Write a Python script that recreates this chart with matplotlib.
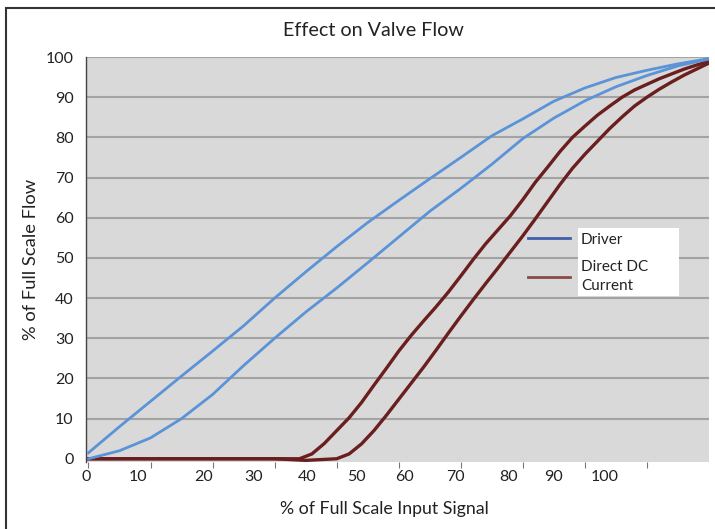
import matplotlib.pyplot as plt
from matplotlib.patches import Rectangle
import numpy as np

plt.rcParams["font.family"] = ["Lato", "DejaVu Sans"]

# Driver curves (two branches of the hysteresis loop)
driver_x = [0, 5, 10, 15, 20, 25, 30, 35, 40, 45, 50, 55, 60, 65, 70,
            75, 80, 85, 90, 95, 100]
driver_up = [1.5, 8, 14.3, 20.6, 26.8, 33.1, 40, 46.5, 52.8, 58.8, 64.3,
             69.7, 75, 80.4, 84.6, 89, 92.3, 94.9, 96.7, 98.3, 99.6]
driver_low = [0, 2, 5.2, 10, 16, 23.2, 30, 36.5, 42.5, 48.8, 55.2,
              61.6, 67.3, 73.3, 79.7, 84.8, 89.1, 92.6, 95.4, 97.8, 99.5]

# Direct DC current curves
dc_left_x = [0, 10, 20, 30, 34, 36, 38, 40, 42, 44, 46, 48, 50, 52, 54,
             56, 58, 60, 62, 64, 66, 68, 70, 72, 74, 76, 78, 80, 82, 84,
             86, 88, 90, 92, 94, 96, 98, 100]
dc_left_y = [0, 0, 0, 0, 0, 1.2, 3.8, 7, 10.2, 14, 18.3, 22.5, 26.8, 30.7,
             34.3, 37.8, 41.5, 45.5, 49.6, 53.5, 57, 60.5, 64.5, 68.8,
             72.6, 76.5, 80, 82.8, 85.5, 87.8, 90, 91.8, 93.2, 94.6, 95.8,
             97, 98, 99]
dc_right_x = [0, 10, 20, 30, 35, 40, 42, 44, 46, 48, 50, 52, 54, 56, 58,
              60, 62, 64, 66, 68, 70, 72, 74, 76, 78, 80, 82, 84, 86, 88,
              90, 92, 94, 96, 98, 100]
dc_right_y = [0, 0, 0, 0, -0.4, 0, 1.2, 3.7, 7, 10.8, 14.8, 18.8, 22.8,
              27, 31.3, 35.5, 39.6, 43.6, 47.5, 51.5, 55.5, 59.7, 64,
              68.3, 72.3, 75.8, 79, 82.2, 85.1, 87.8, 90, 92, 93.8, 95.5,
              97, 98.5]

x_tick_labels = ["0", "10", "20", "30", "40", "50", "60", "70", "80",
                 "90", "100"]
x_label_pos = [-0.4, 7.9, 18.6, 26.6, 35.2, 43.2, 51.0, 59.2, 67.7,
               75.0, 83.2]

blue = "#5b93d8"
brown = "#6b1e1e"

fig = plt.figure(figsize=(7.15, 5.29), dpi=100)
ax = fig.add_axes([0.1203, 0.1267, 0.8713, 0.7655])
ax.set_facecolor("#d9d9d9")

# Figure frame
fig.patches.append(
    Rectangle((6 / 715, -0.05), 1.2, 1 - 8 / 529 + 0.05,
              transform=fig.transFigure, fill=False,
              edgecolor="#333333", linewidth=1.5)
)

for yv in range(10, 101, 10):
    ax.axhline(yv, color="#a3a3a3", linewidth=1.5, zorder=1)

ax.plot(dc_left_x, dc_left_y, color=brown, linewidth=2.4, zorder=3)
ax.plot(dc_right_x, dc_right_y, color=brown, linewidth=2.4, zorder=3)
ax.plot(driver_x, driver_up, color=blue, linewidth=2.0, zorder=4)
ax.plot(driver_x, driver_low, color=blue, linewidth=2.0, zorder=4)

ax.set_xlim(0, 100)
ax.set_ylim(-0.8, 100)

# Tick marks on a regular grid, labels where the original put them
ax.set_xticks(np.arange(0, 91, 10))
ax.set_xticklabels([])
ax.tick_params(axis="x", which="major", length=4, color="#777777",
               direction="out")
ax.set_xticks(x_label_pos, minor=True)
ax.set_xticklabels(x_tick_labels, minor=True, fontsize=11.5,
                   color="#222222")
ax.tick_params(axis="x", which="minor", length=0, pad=6)

ax.set_yticks(np.arange(0, 101, 10))
ax.set_yticklabels([str(v) for v in range(0, 101, 10)], fontsize=11.5,
                   color="#222222")
ax.tick_params(axis="y", length=0, pad=9)

for side in ["top", "right", "bottom"]:
    ax.spines[side].set_visible(False)
ax.spines["left"].set_color("#444444")
ax.spines["left"].set_linewidth(1.0)

fig.text(373 / 715, 1 - 30 / 529, "Effect on Valve Flow", ha="center",
         va="center", fontsize=14.2, color="#222222")
fig.text(384 / 715, 1 - 509 / 529, "% of Full Scale Input Signal",
         ha="center", va="center", fontsize=12.8, color="#222222")
fig.text(31 / 715, 1 - 259 / 529, "% of Full Scale Flow", ha="center",
         va="center", rotation=90, fontsize=13.2, color="#222222")

# Legend: white box behind the labels only
ax.add_patch(Rectangle((0.790, 0.41), 0.162, 0.168,
                       transform=ax.transAxes, facecolor="white",
                       edgecolor="none", zorder=4.5))
h1, = ax.plot([], [], color="#3f5fad", linewidth=2)
h2, = ax.plot([], [], color="#8b4a4a", linewidth=2)
leg = ax.legend([h1, h2], ["Driver", "Direct DC\nCurrent"],
                loc="upper left", bbox_to_anchor=(0.697, 0.585),
                frameon=False, fontsize=11, handlelength=2.75,
                handletextpad=0.72, labelspacing=0.9, borderpad=0)
for t in leg.get_texts():
    t.set_color("#222222")
    t.set_linespacing(1.4)

fig.savefig("out.png", dpi=100)
